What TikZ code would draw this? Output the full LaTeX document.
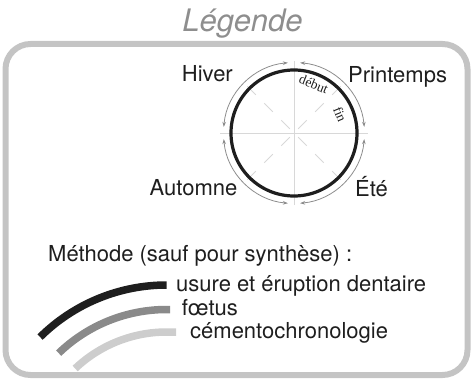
\documentclass[tikz,border=0pt]{standalone}
\usepackage{fontspec}
\setmainfont{TeX Gyre Heros}
\newfontfamily\debutfont{Liberation Serif}
\usetikzlibrary{arrows.meta}
\definecolor{ink}{HTML}{1E1E1E}
\definecolor{framegray}{HTML}{C4C4C4}
\definecolor{titlegray}{HTML}{8E8E8E}
\definecolor{guide}{HTML}{D8D8D8}
\definecolor{cyclegray}{HTML}{8C8C8C}
\definecolor{midgray}{HTML}{8A8A8A}
\definecolor{palegray}{HTML}{CDCDCD}
\tikzset{season/.style={inner sep=0pt,text=ink,font=\fontsize{22}{26}\selectfont},guideline/.style={draw=guide,line width=1pt},cyc/.style={draw=cyclegray,line width=.8pt,{Stealth[length=5pt,width=3.6pt]}-{Stealth[length=5pt,width=3.6pt]}},method/.style={line width=7.5pt,line cap=butt},phase/.style={inner sep=0pt,anchor=base,text=ink,font=\debutfont\fontsize{13.5}{14}\selectfont}}

\begin{document}
\begin{tikzpicture}[x=1pt,y=1pt]
\useasboundingbox (0,0) rectangle (471,389);

\draw[framegray,line width=6pt,rounded corners=25pt] (5.5,14) rectangle (467.5,345);
\node[anchor=base,inner sep=0pt,text=titlegray,font=\itshape\fontsize{31}{36}\selectfont] (title) at (242.5,357.3) {Légende};
% cycle of seasons
\coordinate (c) at (294,256);
\draw[guideline] (c) ++(0,-72) -- ++(0,144); \draw[guideline] (c) ++(-74,0) -- ++(148,0);
\foreach \a in {45,135,225,315} \draw[guideline,dash pattern=on 12pt off 12pt] (c) ++(\a:6) -- ++(\a:68);
\foreach \a [evaluate=\a as \s using \a+5, evaluate=\a as \e using \a+85] in {0,90,180,270} \draw[cyc] (c) ++(\s:70.5) arc[start angle=\s,end angle=\e,radius=70.5];
\draw[ink,line width=3.2pt] (c) circle[radius=63];
\path (c) ++(68:48) node[phase,rotate=-22] (debut) {début};
\path (c) ++(22:45) node[phase,rotate=-68] (fin) {fin};
\node[season,anchor=base east] (hiver) at (233,307.3) {Hiver};
\node[season,anchor=base west] (printemps) at (348,306.3) {Printemps};
\node[season,anchor=base east] (automne) at (237.5,194) {Automne};
\node[season,anchor=base west] (ete) at (355,192.3) {Été};
% methods
\node[season,anchor=base west] (methode) at (48,127.3) {Méthode (sauf pour synthèse) :};
\coordinate (m) at (166.7,-76);
\draw[method,draw=ink] (m) ++(134.7:180) arc[start angle=134.7,end angle=90,radius=180];
\draw[method,draw=midgray] (m) ++(134:155.5) arc[start angle=134,end angle=90,radius=155.5] -- ++(3.3,0);
\draw[method,draw=palegray] (m) ++(133.5:133) arc[start angle=133.5,end angle=90,radius=133] -- ++(9.3,0);
\node[season,anchor=base west] (usure) at (176,97.3) {usure et éruption dentaire};
\node[season,anchor=base west] (foetus) at (181.7,74) {fœtus};
\node[season,anchor=base west] (cemento) at (190,50.7) {cémentochronologie};
\end{tikzpicture}
\end{document}
